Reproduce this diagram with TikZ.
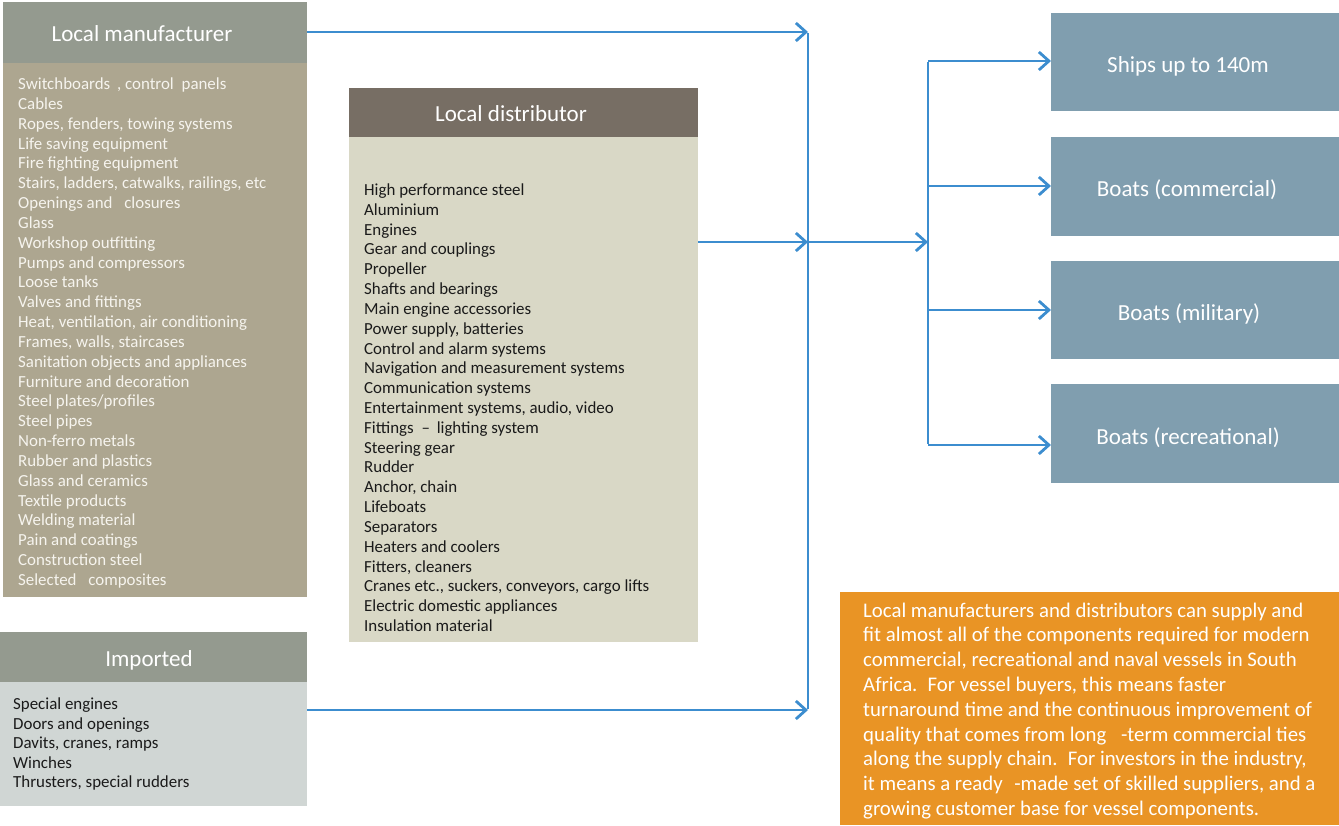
\documentclass[tikz,border=0pt]{standalone}
\usepackage{fontspec}
\setmainfont{Carlito}
\usetikzlibrary{arrows.meta}
\definecolor{hdgreen}{HTML}{949A8F}
\definecolor{manbody}{HTML}{ADA690}
\definecolor{disthead}{HTML}{776E64}
\definecolor{distbody}{HTML}{D9D8C6}
\definecolor{impbody}{HTML}{D0D6D4}
\definecolor{target}{HTML}{809EAF}
\definecolor{orangebox}{HTML}{E99425}
\definecolor{arrowblue}{HTML}{3C8DCF}
\definecolor{lighttext}{HTML}{F6F4EE}
\definecolor{darktext}{HTML}{1A1A1A}
\begin{document}
\begin{tikzpicture}[x=1pt,y=-1pt,
  box/.style={anchor=north west, inner sep=0pt, outer sep=0pt},
  title/.style={anchor=base, inner sep=0pt, text=white, font=\fontsize{23pt}{27pt}\selectfont},
  item/.style={anchor=base west, inner sep=0pt, font=\fontsize{16.9pt}{19pt}\selectfont},
  note/.style={anchor=base west, inner sep=0pt, text=white, font=\fontsize{20.8pt}{24pt}\selectfont},
  arr/.style={draw=arrowblue, line width=2.8pt, -{Straight Barb[length=10pt,width=18pt,line width=2.8pt]}},
  bus/.style={draw=arrowblue, line width=2.8pt}
]
\useasboundingbox (0,0) rectangle (1339,825);
% Local manufacturer
\node[box, fill=hdgreen, minimum width=304pt, minimum height=61pt] (manhead) at (3,2) {};
\node[title] (mantitle) at (142,41) {Local manufacturer};
\node[box, fill=manbody, minimum width=304pt, minimum height=534pt] (manbody) at (3,63) {};
\foreach \t [count=\i] in {{Switchboards\hspace{3pt} , control\hspace{4pt} panels},Cables,{Ropes, fenders, towing systems},Life saving equipment,Fire fighting equipment,{Stairs, ladders, catwalks, railings, etc},{Openings and\hspace{8pt} closures},Glass,Workshop outfitting,Pumps and compressors,Loose tanks,Valves and fittings,{Heat, ventilation, air conditioning},{Frames, walls, staircases},Sanitation objects and appliances,Furniture and decoration,Steel plates/profiles,Steel pipes,Non-ferro metals,Rubber and plastics,Glass and ceramics,Textile products,Welding material,Pain and coatings,Construction steel,{Selected\hspace{8pt} composites}}
  \node[item, text=lighttext] (man\i) at (18,{89.5+19.84*(\i-1)}) {\t};
% Local distributor
\node[box, fill=disthead, minimum width=349pt, minimum height=49pt] (disthead) at (349,88) {};
\node[title] (disttitle) at (511,121) {Local distributor};
\node[box, fill=distbody, minimum width=349pt, minimum height=505pt] (distbody) at (349,137) {};
\foreach \t [count=\i] in {High performance steel,Aluminium,Engines,Gear and couplings,Propeller,Shafts and bearings,Main engine accessories,{Power supply, batteries},Control and alarm systems,Navigation and measurement systems,Communication systems,{Entertainment systems, audio, video},{Fittings\hspace{4pt} –\hspace{3pt} lighting system},Steering gear,Rudder,{Anchor, chain},Lifeboats,Separators,Heaters and coolers,{Fitters, cleaners},{Cranes etc., suckers, conveyors, cargo lifts},Electric domestic appliances,Insulation material}
  \node[item, text=darktext] (dist\i) at (364,{195.5+19.82*(\i-1)}) {\t};
% Imported
\node[box, fill=hdgreen, minimum width=307pt, minimum height=50pt] (imphead) at (0,632) {};
\node[title] (imptitle) at (149,666) {Imported};
\node[box, fill=impbody, minimum width=307pt, minimum height=124pt] (impbody) at (0,682) {};
\foreach \t [count=\i] in {Special engines,Doors and openings,{Davits, cranes, ramps},Winches,{Thrusters, special rudders}}
  \node[item, text=darktext] (imp\i) at (13,{709.5+19.6*(\i-1)}) {\t};
% Targets
\node[box, fill=target, minimum width=288pt, minimum height=98pt] (ships) at (1051,13) {};
\node[title] (shipstitle) at (1188,72) {Ships up to 140m};
\node[box, fill=target, minimum width=288pt, minimum height=99pt] (comm) at (1051,137) {};
\node[title] (commtitle) at (1187,196) {Boats (commercial)};
\node[box, fill=target, minimum width=288pt, minimum height=98pt] (mil) at (1051,261) {};
\node[title] (miltitle) at (1189,320) {Boats (military)};
\node[box, fill=target, minimum width=288pt, minimum height=99pt] (rec) at (1051,384) {};
\node[title] (rectitle) at (1188,444) {Boats (recreational)};
% Orange note
\node[box, fill=orangebox, minimum width=499pt, minimum height=233pt] (notebox) at (840,592) {};
\foreach \t [count=\i] in {Local manufacturers and distributors can supply and,fit almost all of the components required for modern,{commercial, recreational and naval vessels in South},{Africa.\hspace{4pt} For vessel buyers, this means faster},turnaround time and the continuous improvement of,{quality that comes from long\hspace{10pt} -term commercial ties},{along the supply chain.\hspace{4pt} For investors in the industry,},{it means a ready\hspace{7pt} -made set of skilled suppliers, and a},growing customer base for vessel components.}
  \node[note] (note\i) at (863,{617+24.8*(\i-1)}) {\t};
% Connectors
\coordinate (busTop) at (808,32);
\coordinate (busMid) at (808,242);
\coordinate (busBot) at (808,710);
\coordinate (fanTop) at (928,61);
\coordinate (fanMid) at (928,242);
\coordinate (fanC) at (928,186);
\coordinate (fanM) at (928,310);
\coordinate (fanBot) at (928,445);
\draw[bus] ([yshift=-1.4pt]busTop) -- ([yshift=1.4pt]busBot);
\draw[bus] ([yshift=-1.4pt]fanTop) -- ([yshift=1.4pt]fanBot);
\draw[arr] (manhead.east |- busTop) -- (busTop);
\draw[arr] (distbody.east |- busMid) -- (busMid);
\draw[arr] (impbody.east |- busBot) -- (busBot);
\draw[arr] (busMid) -- (fanMid);
\draw[arr] (fanTop) -- (ships.west |- fanTop);
\draw[arr] (fanC) -- (comm.west |- fanC);
\draw[arr] (fanM) -- (mil.west |- fanM);
\draw[arr] (fanBot) -- (rec.west |- fanBot);
\end{tikzpicture}
\end{document}
